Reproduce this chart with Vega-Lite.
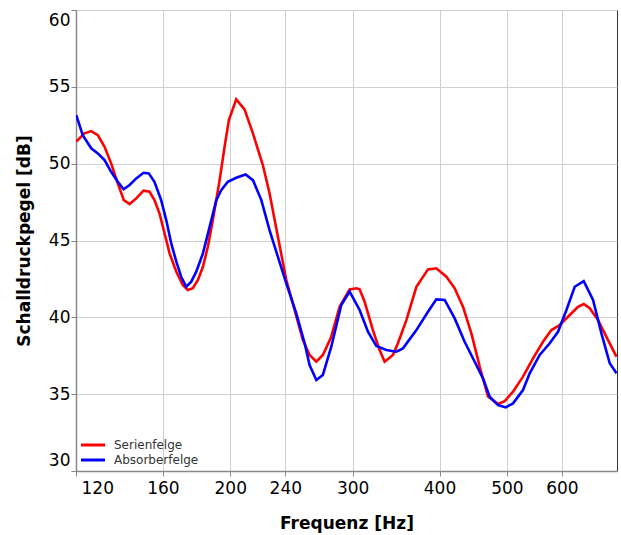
{
  "$schema": "https://vega.github.io/schema/vega-lite/v6.json",
  "width": 541,
  "height": 461,
  "autosize": "none",
  "padding": {"left": 76, "top": 10, "right": 4, "bottom": 64},
  "background": "white",
  "config": {
    "view": {"stroke": "#333", "strokeWidth": 1},
    "font": "DejaVu Sans",
    "axis": {
      "labelFont": "DejaVu Sans",
      "labelFontSize": 17,
      "labelColor": "#000",
      "titleFont": "DejaVu Sans",
      "titleFontSize": 17,
      "titleFontWeight": "bold",
      "titleColor": "#000",
      "gridColor": "#d0d0d0",
      "gridWidth": 1,
      "gridOpacity": 1,
      "domainColor": "#888",
      "domainWidth": 1.5,
      "tickColor": "#888",
      "tickSize": 5
    }
  },
  "data": {"values": [
    {"f":120.1,"db":51.43,"s":"Serienfelge"},
    {"f":123.4,"db":51.97,"s":"Serienfelge"},
    {"f":126.2,"db":52.12,"s":"Serienfelge"},
    {"f":129.0,"db":51.86,"s":"Serienfelge"},
    {"f":131.9,"db":51.10,"s":"Serienfelge"},
    {"f":134.8,"db":50.02,"s":"Serienfelge"},
    {"f":137.8,"db":48.72,"s":"Serienfelge"},
    {"f":140.6,"db":47.63,"s":"Serienfelge"},
    {"f":143.3,"db":47.37,"s":"Serienfelge"},
    {"f":146.5,"db":47.74,"s":"Serienfelge"},
    {"f":150.1,"db":48.24,"s":"Serienfelge"},
    {"f":153.1,"db":48.17,"s":"Serienfelge"},
    {"f":155.6,"db":47.63,"s":"Serienfelge"},
    {"f":158.2,"db":46.77,"s":"Serienfelge"},
    {"f":160.9,"db":45.47,"s":"Serienfelge"},
    {"f":163.6,"db":44.16,"s":"Serienfelge"},
    {"f":167.3,"db":42.97,"s":"Serienfelge"},
    {"f":170.9,"db":42.10,"s":"Serienfelge"},
    {"f":173.8,"db":41.78,"s":"Serienfelge"},
    {"f":176.7,"db":41.89,"s":"Serienfelge"},
    {"f":179.7,"db":42.43,"s":"Serienfelge"},
    {"f":182.7,"db":43.29,"s":"Serienfelge"},
    {"f":185.7,"db":44.59,"s":"Serienfelge"},
    {"f":188.8,"db":46.33,"s":"Serienfelge"},
    {"f":193.1,"db":48.93,"s":"Serienfelge"},
    {"f":196.3,"db":51.10,"s":"Serienfelge"},
    {"f":199.1,"db":52.84,"s":"Serienfelge"},
    {"f":204.0,"db":54.18,"s":"Serienfelge"},
    {"f":209.7,"db":53.53,"s":"Serienfelge"},
    {"f":215.6,"db":51.97,"s":"Serienfelge"},
    {"f":222.8,"db":49.91,"s":"Serienfelge"},
    {"f":227.8,"db":48.07,"s":"Serienfelge"},
    {"f":234.2,"db":45.24,"s":"Serienfelge"},
    {"f":240.8,"db":42.43,"s":"Serienfelge"},
    {"f":247.5,"db":40.48,"s":"Serienfelge"},
    {"f":254.4,"db":38.52,"s":"Serienfelge"},
    {"f":260.1,"db":37.55,"s":"Serienfelge"},
    {"f":266.0,"db":37.11,"s":"Serienfelge"},
    {"f":271.8,"db":37.55,"s":"Serienfelge"},
    {"f":279.5,"db":38.74,"s":"Serienfelge"},
    {"f":287.3,"db":40.69,"s":"Serienfelge"},
    {"f":297.0,"db":41.82,"s":"Serienfelge"},
    {"f":303.7,"db":41.89,"s":"Serienfelge"},
    {"f":307.0,"db":41.82,"s":"Serienfelge"},
    {"f":312.1,"db":41.02,"s":"Serienfelge"},
    {"f":320.8,"db":39.17,"s":"Serienfelge"},
    {"f":328.0,"db":37.87,"s":"Serienfelge"},
    {"f":333.5,"db":37.11,"s":"Serienfelge"},
    {"f":342.8,"db":37.55,"s":"Serienfelge"},
    {"f":348.5,"db":38.31,"s":"Serienfelge"},
    {"f":358.4,"db":39.82,"s":"Serienfelge"},
    {"f":370.5,"db":41.99,"s":"Serienfelge"},
    {"f":385.0,"db":43.12,"s":"Serienfelge"},
    {"f":395.8,"db":43.19,"s":"Serienfelge"},
    {"f":409.2,"db":42.64,"s":"Serienfelge"},
    {"f":420.6,"db":41.89,"s":"Serienfelge"},
    {"f":432.3,"db":40.69,"s":"Serienfelge"},
    {"f":444.5,"db":38.96,"s":"Serienfelge"},
    {"f":456.9,"db":36.80,"s":"Serienfelge"},
    {"f":469.6,"db":34.85,"s":"Serienfelge"},
    {"f":485.5,"db":34.36,"s":"Serienfelge"},
    {"f":496.4,"db":34.55,"s":"Serienfelge"},
    {"f":510.2,"db":35.16,"s":"Serienfelge"},
    {"f":527.4,"db":36.14,"s":"Serienfelge"},
    {"f":545.2,"db":37.33,"s":"Serienfelge"},
    {"f":563.5,"db":38.41,"s":"Serienfelge"},
    {"f":579.4,"db":39.17,"s":"Serienfelge"},
    {"f":595.6,"db":39.50,"s":"Serienfelge"},
    {"f":615.7,"db":40.15,"s":"Serienfelge"},
    {"f":632.8,"db":40.69,"s":"Serienfelge"},
    {"f":644.9,"db":40.87,"s":"Serienfelge"},
    {"f":657.8,"db":40.59,"s":"Serienfelge"},
    {"f":676.2,"db":39.82,"s":"Serienfelge"},
    {"f":699.0,"db":38.52,"s":"Serienfelge"},
    {"f":718.7,"db":37.44,"s":"Serienfelge"},
    {"f":120.1,"db":53.16,"s":"Absorberfelge"},
    {"f":122.7,"db":51.86,"s":"Absorberfelge"},
    {"f":126.2,"db":51.00,"s":"Absorberfelge"},
    {"f":129.0,"db":50.67,"s":"Absorberfelge"},
    {"f":131.9,"db":50.23,"s":"Absorberfelge"},
    {"f":134.8,"db":49.47,"s":"Absorberfelge"},
    {"f":137.8,"db":48.82,"s":"Absorberfelge"},
    {"f":140.5,"db":48.33,"s":"Absorberfelge"},
    {"f":143.3,"db":48.61,"s":"Absorberfelge"},
    {"f":146.5,"db":49.04,"s":"Absorberfelge"},
    {"f":150.1,"db":49.41,"s":"Absorberfelge"},
    {"f":152.7,"db":49.37,"s":"Absorberfelge"},
    {"f":155.6,"db":48.82,"s":"Absorberfelge"},
    {"f":159.1,"db":47.63,"s":"Absorberfelge"},
    {"f":161.8,"db":46.33,"s":"Absorberfelge"},
    {"f":164.5,"db":44.81,"s":"Absorberfelge"},
    {"f":167.3,"db":43.62,"s":"Absorberfelge"},
    {"f":170.0,"db":42.64,"s":"Absorberfelge"},
    {"f":172.9,"db":41.99,"s":"Absorberfelge"},
    {"f":175.8,"db":42.32,"s":"Absorberfelge"},
    {"f":178.7,"db":42.97,"s":"Absorberfelge"},
    {"f":182.7,"db":44.16,"s":"Absorberfelge"},
    {"f":186.8,"db":45.89,"s":"Absorberfelge"},
    {"f":191.0,"db":47.63,"s":"Absorberfelge"},
    {"f":194.1,"db":48.28,"s":"Absorberfelge"},
    {"f":198.4,"db":48.82,"s":"Absorberfelge"},
    {"f":204.0,"db":49.08,"s":"Absorberfelge"},
    {"f":210.4,"db":49.30,"s":"Absorberfelge"},
    {"f":215.6,"db":48.93,"s":"Absorberfelge"},
    {"f":221.7,"db":47.63,"s":"Absorberfelge"},
    {"f":227.8,"db":45.68,"s":"Absorberfelge"},
    {"f":234.2,"db":43.94,"s":"Absorberfelge"},
    {"f":240.8,"db":42.21,"s":"Absorberfelge"},
    {"f":248.9,"db":40.26,"s":"Absorberfelge"},
    {"f":255.9,"db":38.31,"s":"Absorberfelge"},
    {"f":260.1,"db":36.90,"s":"Absorberfelge"},
    {"f":266.0,"db":35.92,"s":"Absorberfelge"},
    {"f":271.8,"db":36.25,"s":"Absorberfelge"},
    {"f":279.5,"db":38.09,"s":"Absorberfelge"},
    {"f":288.9,"db":40.80,"s":"Absorberfelge"},
    {"f":297.0,"db":41.67,"s":"Absorberfelge"},
    {"f":307.0,"db":40.48,"s":"Absorberfelge"},
    {"f":315.6,"db":39.06,"s":"Absorberfelge"},
    {"f":324.5,"db":38.13,"s":"Absorberfelge"},
    {"f":335.4,"db":37.87,"s":"Absorberfelge"},
    {"f":346.7,"db":37.76,"s":"Absorberfelge"},
    {"f":354.4,"db":37.98,"s":"Absorberfelge"},
    {"f":370.5,"db":39.17,"s":"Absorberfelge"},
    {"f":385.0,"db":40.36,"s":"Absorberfelge"},
    {"f":395.8,"db":41.17,"s":"Absorberfelge"},
    {"f":406.9,"db":41.13,"s":"Absorberfelge"},
    {"f":420.6,"db":39.93,"s":"Absorberfelge"},
    {"f":434.7,"db":38.41,"s":"Absorberfelge"},
    {"f":449.4,"db":37.11,"s":"Absorberfelge"},
    {"f":461.9,"db":36.03,"s":"Absorberfelge"},
    {"f":472.3,"db":34.83,"s":"Absorberfelge"},
    {"f":485.5,"db":34.29,"s":"Absorberfelge"},
    {"f":498.0,"db":34.14,"s":"Absorberfelge"},
    {"f":510.2,"db":34.40,"s":"Absorberfelge"},
    {"f":527.4,"db":35.27,"s":"Absorberfelge"},
    {"f":539.2,"db":36.36,"s":"Absorberfelge"},
    {"f":557.4,"db":37.55,"s":"Absorberfelge"},
    {"f":576.2,"db":38.31,"s":"Absorberfelge"},
    {"f":592.2,"db":39.06,"s":"Absorberfelge"},
    {"f":609.0,"db":40.48,"s":"Absorberfelge"},
    {"f":625.9,"db":41.99,"s":"Absorberfelge"},
    {"f":644.9,"db":42.36,"s":"Absorberfelge"},
    {"f":665.1,"db":41.13,"s":"Absorberfelge"},
    {"f":683.8,"db":38.96,"s":"Absorberfelge"},
    {"f":702.9,"db":37.01,"s":"Absorberfelge"},
    {"f":718.7,"db":36.36,"s":"Absorberfelge"}
  ]},
  "mark": {"type": "line", "strokeWidth": 2.6, "clip": true},
  "encoding": {
    "x": {
      "field": "f", "type": "quantitative",
      "scale": {"type": "log", "domain": [120, 720], "nice": false},
      "axis": {
        "title": "Frequenz [Hz]",
        "values": [120, 160, 200, 240, 300, 400, 500, 600],
        "format": "d",
        "labelFlush": true,
        "labelFlushOffset": -5,
        "labelPadding": 4,
        "titlePadding": 19
      }
    },
    "y": {
      "field": "db", "type": "quantitative",
      "scale": {"domain": [30, 60], "nice": false, "zero": false},
      "axis": {
        "title": "Schalldruckpegel [dB]",
        "values": [30, 35, 40, 45, 50, 55, 60],
        "labelFlush": true,
        "labelFlushOffset": -2,
        "labelPadding": 1,
        "titlePadding": 15
      }
    },
    "color": {
      "field": "s", "type": "nominal",
      "scale": {"domain": ["Serienfelge", "Absorberfelge"], "range": ["#ff0000", "#0000ff"]},
      "legend": {
        "title": null,
        "orient": "none",
        "legendX": 8,
        "legendY": 426,
        "padding": 0,
        "symbolType": "M-1.6,0L1.6,0",
        "symbolSize": 225,
        "symbolStrokeWidth": 3,
        "rowPadding": 0,
        "labelFont": "DejaVu Sans",
        "labelFontSize": 12,
        "labelColor": "#333",
        "labelOffset": 12
      }
    }
  }
}
